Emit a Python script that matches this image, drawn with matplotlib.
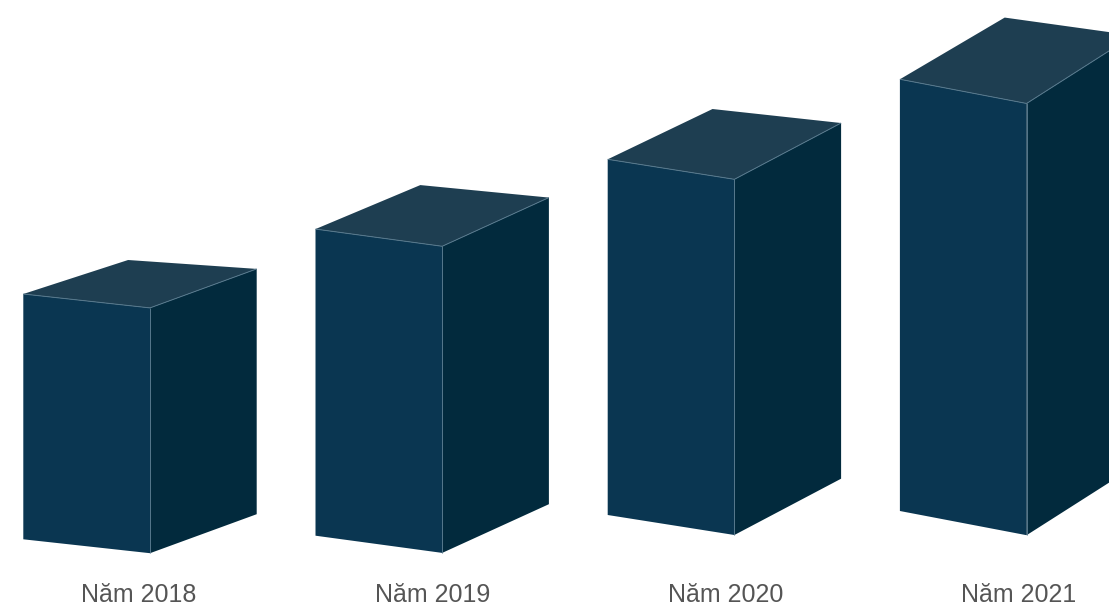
import matplotlib
matplotlib.use('Agg')
import matplotlib.pyplot as plt
from matplotlib.patches import Polygon

years = ['Năm 2018', 'Năm 2019', 'Năm 2020', 'Năm 2021']
values = [100, 125, 145, 176]

# layout (pixels of the 1109x605 canvas, y measured downward)
W, H = 1109, 605
PX_PER_UNIT = 2.453          # vertical pixels per value unit
first_left = 23.3            # x of front-bottom-left corner of first bar
spacing = 292.2              # horizontal distance between bars
base_px = [539.3, 535.7, 515.0, 511.0]   # y of front-bottom-left corner
front_w = 126.7
front_drop = [13.9, 17.2, 20.0, 24.2]    # front face slopes down to the right
depth_w_left, depth_w_right = 104.8, 106.7
rise_left = [34.0, 44.0, 50.3, 61.7]     # receding edge from the left corner
rise_right = [39.0, 48.7, 56.3, 68.0]    # receding edges from the right corner
first_label = 139
label_spacing = 293.3
label_baseline_px = 602

FRONT = '#0a3651'
SIDE = '#022a3d'
TOP = '#1e3e51'
EDGE = '#56788c'
LABEL = '#555555'


def to_units(py):
    # canvas y pixel -> value units measured up from the bottom edge
    return (H - py) / PX_PER_UNIT


def draw_box(ax, x0, base, value, drop, r_left, r_right):
    """Draws one pseudo-3D column. base is in value units, offsets in px."""
    fd = drop / PX_PER_UNIT
    dl = r_left / PX_PER_UNIT
    dr = r_right / PX_PER_UNIT
    top = base + value

    bl = (x0, base)
    br = (x0 + front_w, base - fd)
    tr = (x0 + front_w, top - fd)
    tl = (x0, top)
    sbr = (br[0] + depth_w_right, br[1] + dr)
    str_ = (tr[0] + depth_w_right, tr[1] + dr)
    tbl = (tl[0] + depth_w_left, tl[1] + dl)

    ax.add_patch(Polygon([bl, br, tr, tl], closed=True, facecolor=FRONT, edgecolor='none'))
    ax.add_patch(Polygon([br, sbr, str_, tr], closed=True, facecolor=SIDE, edgecolor='none'))
    ax.add_patch(Polygon([tl, tr, str_, tbl], closed=True, facecolor=TOP, edgecolor='none'))

    # thin light edges where the faces meet
    ax.plot([tl[0], tr[0], str_[0]], [tl[1], tr[1], str_[1]], color=EDGE, lw=0.7,
            solid_capstyle='butt')
    ax.plot([tr[0], br[0]], [tr[1], br[1]], color=EDGE, lw=0.7, solid_capstyle='butt')


fig = plt.figure(figsize=(W / 100, H / 100), dpi=100)
ax = fig.add_axes([0, 0, 1, 1])
ax.set_xlim(0, W)
ax.set_ylim(0, H / PX_PER_UNIT)
ax.axis('off')

for i, (year, val) in enumerate(zip(years, values)):
    x0 = first_left + spacing * i
    draw_box(ax, x0, to_units(base_px[i]), val, front_drop[i], rise_left[i], rise_right[i])
    ax.text(first_label + label_spacing * i, to_units(label_baseline_px), year,
            ha='center', va='baseline', fontsize=18, color=LABEL,
            family=['Liberation Sans', 'DejaVu Sans'])

fig.savefig('out.png', dpi=100, facecolor='white')
